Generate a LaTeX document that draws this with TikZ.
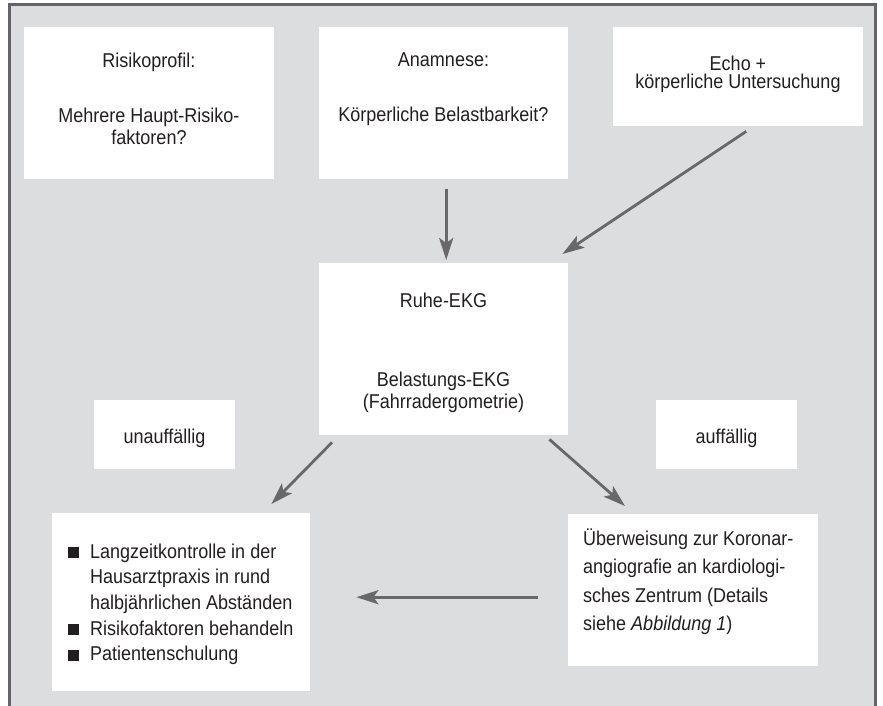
\documentclass[tikz,border=0pt]{standalone}
\usepackage{fontspec}
\setmainfont{Liberation Sans}[FakeStretch=0.9]
\usetikzlibrary{arrows.meta,calc}
\definecolor{bgc}{RGB}{220,221,223}
\definecolor{framec}{RGB}{100,100,102}
\definecolor{arrc}{RGB}{104,104,107}
\definecolor{txtc}{RGB}{35,31,32}
\newcommand{\sqbullet}{\makebox[22pt][l]{\rule{11pt}{11pt}}}
\begin{document}
\begin{tikzpicture}[x=1pt,y=-1pt,
  box/.style={fill=white, draw=none, inner sep=0pt, anchor=north west},
  txt/.style={inner sep=0pt, text=txtc},
  arr/.style={draw=arrc, line width=2.8pt, -{Stealth[length=22pt,width=14pt,inset=5pt]}}]
\useasboundingbox (0,0) rectangle (883,706);
\fill[bgc] (9.5,4.5) rectangle (876,710);
\draw[framec, line width=2.5pt] (9.5,712) -- (9.5,4.5) -- (875.7,4.5) -- (875.7,712);
% boxes
\node[box, minimum width=250pt, minimum height=152pt] (b1) at (24,27) {};
\node[box, minimum width=249pt, minimum height=152pt] (b2) at (319,27) {};
\node[box, minimum width=250pt, minimum height=99pt] (b3) at (613,27) {};
\node[box, minimum width=249pt, minimum height=172pt] (mid) at (319,263) {};
\node[box, minimum width=141pt, minimum height=69pt] (un) at (94,400) {};
\node[box, minimum width=141pt, minimum height=69pt] (au) at (656,400) {};
\node[box, minimum width=258pt, minimum height=178pt] (bl) at (52,513) {};
\node[box, minimum width=250pt, minimum height=152pt] (br) at (568,514) {};
% texts
\node[txt, anchor=north, align=center, font=\fontsize{20}{22.3}\selectfont] (t1) at (149,52.4)
  {Risikoprofil:\\[33pt]Mehrere Haupt-Risiko-\\faktoren?};
\node[txt, anchor=north, align=center, font=\fontsize{20}{22.3}\selectfont] (t2) at (443.5,52.4)
  {Anamnese:\\[33pt]Körperliche Belastbarkeit?};
\node[txt, anchor=north, align=center, font=\fontsize{20}{18.5}\selectfont] (t3) at (738,55.4)
  {Echo +\\körperliche Untersuchung};
\node[txt, anchor=north, align=center, font=\fontsize{20}{22}\selectfont] (tm) at (443.5,293.1)
  {Ruhe-EKG\\[57pt]Belastungs-EKG\\(Fahrradergometrie)};
\node[txt, anchor=base, font=\fontsize{20}{22}\selectfont] (tu) at (164.5,443) {unauffällig};
\node[txt, anchor=base, font=\fontsize{20}{22}\selectfont] (ta) at (726.5,443) {auffällig};
\node[txt, anchor=north west, align=left, font=\fontsize{20}{25.7}\selectfont] (tl) at (68,543.4)
  {\sqbullet Langzeitkontrolle in der\\\hspace*{22pt}Hausarztpraxis in rund\\\hspace*{22pt}halbjährlichen Abständen\\\sqbullet Risikofaktoren behandeln\\\sqbullet Patientenschulung};
\node[txt, anchor=north west, align=left, font=\fontsize{20}{28.5}\selectfont] (tr) at (583,528.5)
  {Überweisung zur Koronar-\\angiografie an kardiologi-\\sches Zentrum (Details\\siehe \textit{Abbildung 1})};
% arrows
\draw[arr] ($(b2.south)+(2.5,10)$) -- ($(mid.north)+(2.5,-3)$);
\draw[arr] ($(b3.south)+(8,5)$) -- ($(mid.north east)+(-6,-9)$);
\draw[arr] ($(mid.south west)+(13,7)$) -- ($(bl.north east)+(-39,-9)$);
\draw[arr] ($(mid.south east)+(-19,4)$) -- ($(br.north west)+(57,-8)$);
\draw[arr] ($(br.west)+(-30,7)$) -- ($(bl.east)+(46,-5)$);
\end{tikzpicture}
\end{document}
